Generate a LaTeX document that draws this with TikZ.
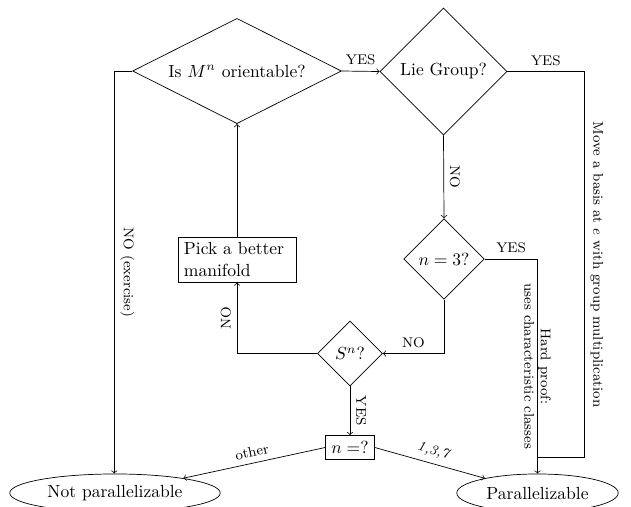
\documentclass[tikz,border=0pt]{standalone}
\usetikzlibrary{shapes.geometric}
\begin{document}
\begin{tikzpicture}[x=0.57pt,y=-0.57pt,
  dec/.style={diamond, draw, inner sep=0pt, align=center},
  box/.style={rectangle, draw},
  term/.style={ellipse, draw, inner sep=0pt},
  lbl/.style={font=\footnotesize},
  >=to]
\useasboundingbox (0,0) rectangle (631,506);
% nodes
\node[dec, aspect=2, minimum width=119pt, minimum height=60pt] (orient) at (237,71) {Is $M^n$ orientable?};
\node[dec, minimum width=72.4pt, minimum height=72.4pt] (lie) at (443.5,71.5) {Lie Group?};
\node[dec, minimum width=46pt, minimum height=46pt] (n3) at (444,259) {$n=3?$};
\node[dec, minimum width=37pt, minimum height=37pt] (sn) at (350,353.5) {$S^n$?};
\node[box, text width=60.5pt, align=left, inner sep=3.33pt] (pick) at (237,259.5) {Pick a better\\manifold};
\node[box] (nq) at (350,447.5) {$n=$?};
\node[term, minimum width=120pt, minimum height=21.7pt] (notpar) at (115,493) {Not parallelizable};
\node[term, minimum width=92pt, minimum height=21.7pt] (par) at (537.5,493) {Parallelizable};
% connectors
\draw[->] (orient.west) -- ++(-18,0) coordinate (c1) -- node[lbl, rotate=-90, anchor=south] {NO (exercise)} (c1 |- notpar.north);
\draw[->] (pick.north) -- (orient.south);
\draw[->] (orient.east) -- node[lbl, above] {YES} (lie.west);
\draw (lie.east) -- node[lbl, above] {YES} ++(77,0) coordinate (c2) -- node[lbl, rotate=-90, anchor=south] {Move a basis at $e$ with group multiplication} ++(0,386) coordinate (c3) -- (c3 -| par.north);
\draw[->] (lie.south) -- node[lbl, rotate=-90, anchor=south] {NO} (n3.north);
\draw[->] (n3.east) -- node[lbl, above] {YES} (n3.east -| par.north) -- node[lbl, rotate=-90, align=center] {Hard proof:\\uses characteristic classes} (par.north);
\draw[->] (n3.south) -- (n3.south |- sn.east) -- node[lbl, above] {NO} (sn.east);
\draw[->] (sn.west) -- (sn.west -| pick.south) -- node[lbl, rotate=90, anchor=south] {NO} (pick.south);
\draw[->] (sn.south) -- node[lbl, rotate=-90, anchor=south] {YES} (nq.north);
\draw[->] (nq.west) -- node[lbl, sloped, above] {other} (notpar);
\draw[->] (nq.east) -- node[lbl, sloped, above] {\itshape 1,3,7} (par);
\end{tikzpicture}
\end{document}
